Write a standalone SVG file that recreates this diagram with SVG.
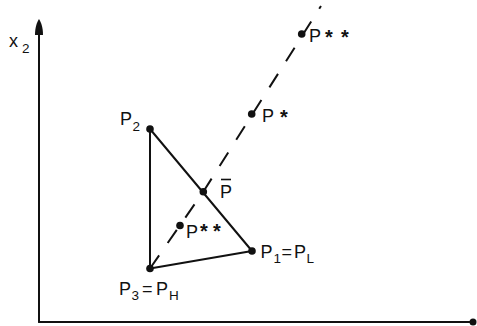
<svg xmlns="http://www.w3.org/2000/svg" width="477" height="326" viewBox="0 0 477 326">
  <style>
    .ln { stroke: #111; stroke-width: 2; fill: none; stroke-linecap: round; }
    .dash { stroke: #111; stroke-width: 2; fill: none; stroke-dasharray: 16 15; }
    .pt { fill: #111; }
    .lbl { font-family: "Liberation Sans", Arial, sans-serif; font-size: 18px; fill: #111; }
    .sub { font-family: "Liberation Sans", Arial, sans-serif; font-size: 13.5px; fill: #111; }
    .ast { font-family: "Liberation Sans", Arial, sans-serif; font-size: 20px; font-weight: bold; fill: #111; text-anchor: middle; }
  </style>
  <defs>
    <path id="arrowhead" d="M0,0 C2,3 4,8 4,16 L-4,16 C-4,8 -2,3 0,0 Z" fill="#111"/>
  </defs>
  <rect width="477" height="326" fill="#fff"/>

  <g id="axes">
    <line class="ln" x1="39" y1="322" x2="39" y2="30"/>
    <use href="#arrowhead" x="39" y="19"/>
    <line class="ln" x1="39" y1="322" x2="473" y2="322"/>
    <circle class="pt" cx="473" cy="322" r="3.5"/>
    <text class="lbl" x="9" y="47" font-size="15">x</text>
    <text class="sub" x="22" y="53" font-size="14">2</text>
  </g>

  <g id="connectors">
    <line class="ln" x1="150" y1="129" x2="150" y2="268.5"/>
    <line class="ln" x1="150" y1="129" x2="252" y2="251"/>
    <line class="ln" x1="150" y1="268.5" x2="252" y2="251"/>
    <path class="dash" d="M150,268.5 L203.3,191.7 L321,6"/>
  </g>

  <g id="P2">
    <circle class="pt" cx="150" cy="129" r="3.8"/>
    <text class="lbl" x="120" y="125">P</text>
    <text class="sub" x="132.5" y="131">2</text>
  </g>

  <g id="P3">
    <circle class="pt" cx="150" cy="268.5" r="3.8"/>
    <text class="lbl" x="119" y="295">P</text>
    <text class="sub" x="131.5" y="300">3</text>
    <text class="lbl" x="142" y="295">=</text>
    <text class="lbl" x="156" y="295">P</text>
    <text class="sub" x="169" y="300">H</text>
  </g>

  <g id="P1">
    <circle class="pt" cx="252" cy="251" r="3.8"/>
    <text class="lbl" x="260.5" y="258">P</text>
    <text class="sub" x="273.5" y="263">1</text>
    <text class="lbl" x="281.5" y="258">=</text>
    <text class="lbl" x="294" y="258">P</text>
    <text class="sub" x="306.5" y="263">L</text>
  </g>

  <g id="Pbar">
    <circle class="pt" cx="203.3" cy="191.7" r="3.8"/>
    <text class="lbl" x="220" y="198">P</text>
    <line x1="221" y1="179.5" x2="231" y2="179.5" stroke="#111" stroke-width="1.6"/>
  </g>

  <g id="Pss-inner">
    <circle class="pt" cx="180" cy="225.5" r="3.8"/>
    <text class="lbl" x="186" y="238">P</text>
    <text class="ast" x="204" y="237.5">*</text>
    <text class="ast" x="217" y="237.5">*</text>
  </g>

  <g id="Pstar">
    <circle class="pt" cx="251.7" cy="114" r="3.8"/>
    <text class="lbl" x="262" y="122">P</text>
    <text class="ast" x="284" y="123.5">*</text>
  </g>

  <g id="Pss-outer">
    <circle class="pt" cx="301.7" cy="34" r="3.8"/>
    <text class="lbl" x="309" y="42">P</text>
    <text class="ast" x="329" y="43.5">*</text>
    <text class="ast" x="345" y="43.5">*</text>
  </g>
</svg>
